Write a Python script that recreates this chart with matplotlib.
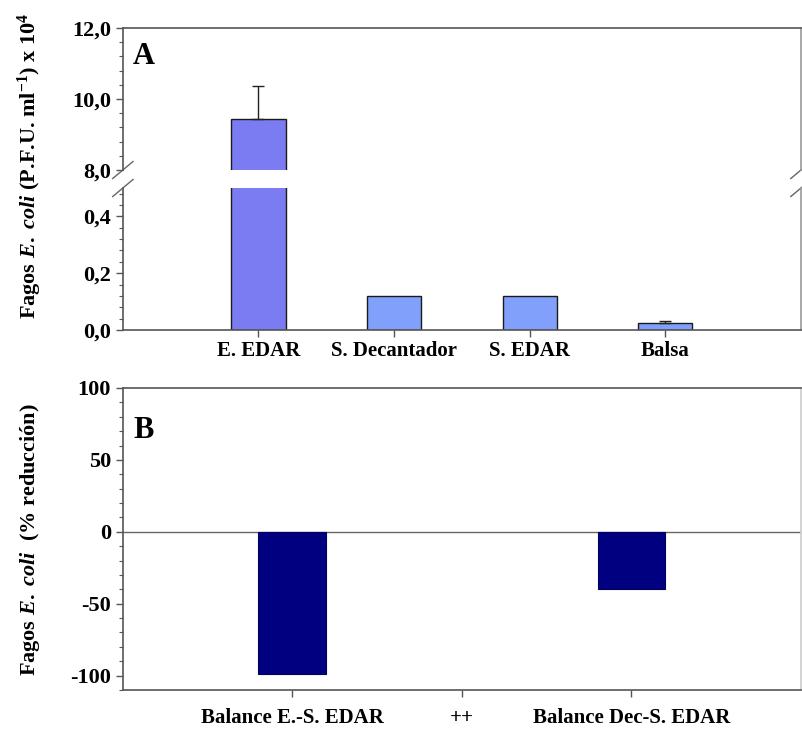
import matplotlib
matplotlib.use("Agg")
import matplotlib.pyplot as plt
import numpy as np
from matplotlib.ticker import FuncFormatter, MultipleLocator

plt.rcParams['font.family'] = 'Liberation Serif'
plt.rcParams['font.weight'] = 'bold'
plt.rcParams['axes.unicode_minus'] = False
plt.rcParams['mathtext.fontset'] = 'custom'
plt.rcParams['mathtext.rm'] = 'Liberation Serif:bold'
plt.rcParams['mathtext.it'] = 'Liberation Serif:italic:bold'
plt.rcParams['mathtext.bf'] = 'Liberation Serif:bold'

# panel A data (x 10^4 PFU/ml)
sites = ['E. EDAR', 'S. Decantador', 'S. EDAR', 'Balsa']
counts = [9.43, 0.12, 0.12, 0.024]
count_err = [0.94, 0.0, 0.0, 0.007]
bar_colors = ['#7b7bf2', '#80a0fb', '#80a0fb', '#80a0fb']

# panel B data (% reduction)
balances = ['Balance E.-S. EDAR', '++', 'Balance Dec-S. EDAR']
reduction = [-99, np.nan, -40]

spine_c = '#555555'
fs = 15     # x labels
fsy = 16    # y tick labels

fig = plt.figure(figsize=(8.03, 7.29), dpi=100)
L, R = 0.153, 0.9975
ax_hi = fig.add_axes([L, 0.7668, R - L, 0.9616 - 0.7668])
ax_lo = fig.add_axes([L, 0.5473, R - L, 0.7421 - 0.5473])
ax_b = fig.add_axes([L, 0.0535, R - L, 0.4678 - 0.0535])

x = np.arange(1, len(sites) + 1)
comma = FuncFormatter(lambda v, p: f"{v:.1f}".replace('.', ','))

for ax in (ax_hi, ax_lo):
    ax.bar(x, counts, 0.4, color=bar_colors, edgecolor='#1a1a1a', linewidth=1.0, zorder=2)
    for xi, v, e in zip(x, counts, count_err):
        if e > 0:
            ax.errorbar(xi, v, yerr=[[0], [e]], color='#222222', capsize=4.5, elinewidth=1, capthick=1, zorder=3)
    ax.set_xlim(0, 5)
    ax.yaxis.set_major_formatter(comma)
    ax.tick_params(axis='y', direction='out', length=5, width=1, labelsize=fsy, colors=spine_c, labelcolor='black')
    ax.tick_params(axis='y', which='minor', direction='out', length=3, width=0.8, colors=spine_c)
    for s in ax.spines.values():
        s.set_color(spine_c)
        s.set_linewidth(1.2)
    ax.spines['right'].set_color('#999999')

ax_hi.set_ylim(8, 12)
ax_hi.set_yticks([8, 10, 12])
ax_hi.yaxis.set_minor_locator(MultipleLocator(0.4))
ax_hi.spines['bottom'].set_visible(False)
ax_hi.set_xticks([])
ax_hi.text(0.015, 0.8, 'A', transform=ax_hi.transAxes, fontsize=22, fontweight='bold', va='center')

ax_lo.set_ylim(0, 0.5)
ax_lo.set_yticks([0, 0.2, 0.4])
ax_lo.yaxis.set_minor_locator(MultipleLocator(0.04))
ax_lo.spines['top'].set_visible(False)
ax_lo.set_xticks(x)
ax_lo.set_xticklabels(sites, fontsize=fs)
ax_lo.tick_params(axis='x', direction='out', length=5, width=1, colors=spine_c, labelcolor='black', pad=3)

# break marks
dx, dy = 0.015, 0.06
for xx in (0, 1):
    ax_hi.plot([xx - dx, xx + dx], [-dy, dy], transform=ax_hi.transAxes, color='#666666', lw=1, clip_on=False)
    ax_lo.plot([xx - dx, xx + dx], [1 - dy, 1 + dy], transform=ax_lo.transAxes, color='#666666', lw=1, clip_on=False)

# panel B
xb = np.arange(1, len(balances) + 1)
vals = np.array(reduction, dtype=float)
ok = ~np.isnan(vals)
ax_b.bar(xb[ok], vals[ok], 0.4, color='#000080', edgecolor='#000060', linewidth=0.8, zorder=2)
ax_b.axhline(0, color='#666666', lw=1, zorder=1)
ax_b.set_xlim(0, 4)
ax_b.set_ylim(-110, 100)
ax_b.set_yticks([-100, -50, 0, 50, 100])
ax_b.yaxis.set_minor_locator(MultipleLocator(10))
ax_b.set_xticks(xb)
ax_b.set_xticklabels(balances, fontsize=fs)
ax_b.tick_params(axis='y', direction='out', length=5, width=1, labelsize=fsy, colors=spine_c, labelcolor='black')
ax_b.tick_params(axis='y', which='minor', direction='out', length=3, width=0.8, colors=spine_c)
ax_b.tick_params(axis='x', direction='out', length=5, width=1, colors=spine_c, labelcolor='black', pad=8)
for s in ax_b.spines.values():
    s.set_color(spine_c)
    s.set_linewidth(1.2)
ax_b.spines['right'].set_color('#cccccc')
ax_b.text(0.015, 0.86, 'B', transform=ax_b.transAxes, fontsize=22, fontweight='bold', va='center')

fig.text(0.037, 0.772, r'Fagos $\mathit{E.}$ $\mathit{coli}$ (P.F.U. ml$^{-1}$) x 10$^{4}$',
         rotation=90, ha='center', va='center', fontsize=16, fontweight='bold')
fig.text(0.037, 0.26, r'Fagos $\mathit{E.}$ $\mathit{coli}$  (% reducción)',
         rotation=90, ha='center', va='center', fontsize=16, fontweight='bold')

fig.savefig('out.png', dpi=100)
